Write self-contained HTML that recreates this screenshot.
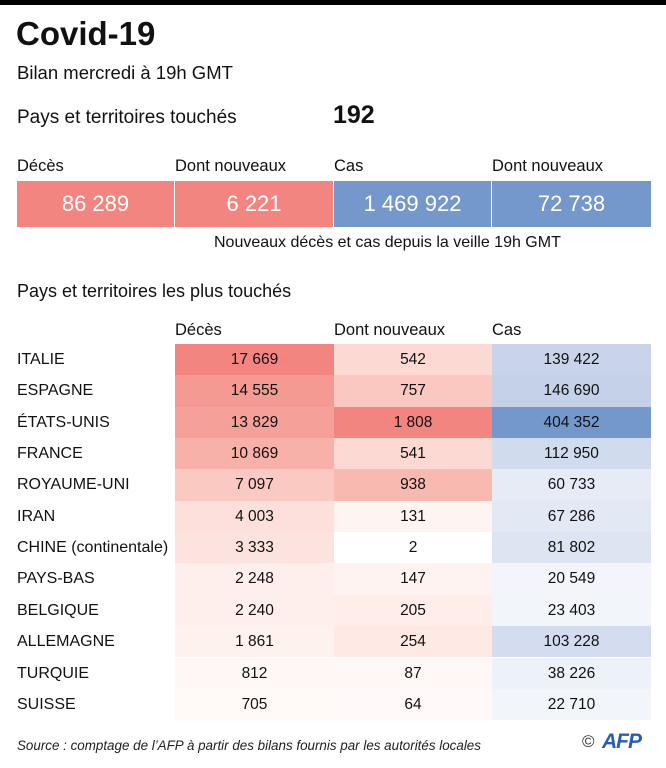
<!DOCTYPE html>
<html><head><meta charset="utf-8"><style>
body{margin:0;width:666px;height:768px;background:#fff;position:relative;font-family:"Liberation Sans",sans-serif;color:#111;overflow:hidden}
.a{position:absolute;white-space:nowrap}
.top{position:absolute;left:0;top:0;width:666px;height:5px;background:#000}
.box{position:absolute;top:181px;height:46px;color:#fff;font-size:22px;line-height:46px;text-align:center}
.h{font-size:16.5px}
.row{position:absolute;left:0;width:666px;height:31.35px;line-height:31.35px;font-size:15.5px}
.row div{position:absolute;top:0;height:100%;text-align:center}
.row .l{left:17px;text-align:left;font-size:16px}
.c1{left:175px;width:159px}.c2{left:334px;width:158px}.c3{left:492px;width:159px}
</style></head><body>
<div class="top"></div>
<div class="a" style="left:16px;top:15px;font-size:33px;font-weight:bold">Covid-19</div>
<div class="a" style="left:17px;top:62px;font-size:18.5px">Bilan mercredi à 19h GMT</div>
<div class="a" style="left:17px;top:107px;font-size:19px">Pays et territoires touchés</div>
<div class="a" style="left:333px;top:101px;font-size:25px;font-weight:bold">192</div>
<div class="a h" style="left:17px;top:157px">Décès</div>
<div class="a h" style="left:175px;top:157px">Dont nouveaux</div>
<div class="a h" style="left:334px;top:157px">Cas</div>
<div class="a h" style="left:492px;top:157px">Dont nouveaux</div>
<div class="box" style="left:17px;width:157px;background:#f28580">86 289</div>
<div class="box" style="left:175px;width:158px;background:#f28580">6 221</div>
<div class="box" style="left:334px;width:157px;background:#7498cc">1 469 922</div>
<div class="box" style="left:492px;width:159px;background:#7498cc">72 738</div>
<div class="a" style="left:214px;top:234px;font-size:16px">Nouveaux décès et cas depuis la veille 19h GMT</div>
<div class="a" style="left:17px;top:281px;font-size:18px">Pays et territoires les plus touchés</div>
<div class="a h" style="left:175px;top:321px">Décès</div>
<div class="a h" style="left:334px;top:321px">Dont nouveaux</div>
<div class="a h" style="left:492px;top:321px">Cas</div>

<div class="row" style="top:344px"><div class="l">ITALIE</div><div class="c1" style="background:#f28580">17 669</div><div class="c2" style="background:#fcd9d3">542</div><div class="c3" style="background:#c9d4ea">139 422</div></div>
<div class="row" style="top:375.4px"><div class="l">ESPAGNE</div><div class="c1" style="background:#f59a93">14 555</div><div class="c2" style="background:#fac8c1">757</div><div class="c3" style="background:#c5d1e9">146 690</div></div>
<div class="row" style="top:406.7px"><div class="l">ÉTATS-UNIS</div><div class="c1" style="background:#f5a199">13 829</div><div class="c2" style="background:#f28580">1 808</div><div class="c3" style="background:#7498cc">404 352</div></div>
<div class="row" style="top:438px"><div class="l">FRANCE</div><div class="c1" style="background:#f7b1a9">10 869</div><div class="c2" style="background:#fcd9d3">541</div><div class="c3" style="background:#d1dbee">112 950</div></div>
<div class="row" style="top:469.4px"><div class="l">ROYAUME-UNI</div><div class="c1" style="background:#fac9c2">7 097</div><div class="c2" style="background:#f8b9b1">938</div><div class="c3" style="background:#e6ebf5">60 733</div></div>
<div class="row" style="top:500.7px"><div class="l">IRAN</div><div class="c1" style="background:#fde0dc">4 003</div><div class="c2" style="background:#fef5f3">131</div><div class="c3" style="background:#e3e9f4">67 286</div></div>
<div class="row" style="top:532px"><div class="l">CHINE (continentale)</div><div class="c1" style="background:#fde3df">3 333</div><div class="c2" style="background:#fff">2</div><div class="c3" style="background:#dde4f2">81 802</div></div>
<div class="row" style="top:563.4px"><div class="l">PAYS-BAS</div><div class="c1" style="background:#feefec">2 248</div><div class="c2" style="background:#fef3f1">147</div><div class="c3" style="background:#f3f5fa">20 549</div></div>
<div class="row" style="top:594.8px"><div class="l">BELGIQUE</div><div class="c1" style="background:#feefec">2 240</div><div class="c2" style="background:#feede9">205</div><div class="c3" style="background:#f2f5fa">23 403</div></div>
<div class="row" style="top:626.1px"><div class="l">ALLEMAGNE</div><div class="c1" style="background:#fef2ef">1 861</div><div class="c2" style="background:#fee9e5">254</div><div class="c3" style="background:#d4ddef">103 228</div></div>
<div class="row" style="top:657.5px"><div class="l">TURQUIE</div><div class="c1" style="background:#fff8f6">812</div><div class="c2" style="background:#fff8f6">87</div><div class="c3" style="background:#edf1f8">38 226</div></div>
<div class="row" style="top:688.8px"><div class="l">SUISSE</div><div class="c1" style="background:#fff9f8">705</div><div class="c2" style="background:#fffaf9">64</div><div class="c3" style="background:#f2f5fa">22 710</div></div>

<div class="a" style="left:17px;top:738px;font-size:13.4px;font-style:italic;color:#222">Source : comptage de l’AFP à partir des bilans fournis par les autorités locales</div>
<div class="a" style="left:582px;top:732px;font-size:17px;color:#333">©</div>
<div class="a" style="left:602px;top:730px;font-size:21px;font-weight:bold;font-style:italic;color:#2a5db0;letter-spacing:-1px">AFP</div>
</body></html>
